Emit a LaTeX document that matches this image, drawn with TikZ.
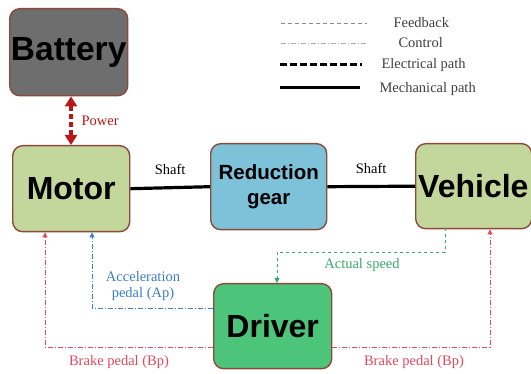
\documentclass[tikz,border=0pt]{standalone}
\usepackage{fontspec}
\setmainfont{Liberation Serif}
\setsansfont{Liberation Sans}
\usetikzlibrary{arrows.meta}
\definecolor{bordc}{HTML}{8B4A3C}
\definecolor{batfill}{HTML}{6E6E6E}
\definecolor{olivefill}{HTML}{C3D69B}
\definecolor{gearfill}{HTML}{7DC2D8}
\definecolor{drvfill}{HTML}{4CC47A}
\definecolor{fbgreen}{HTML}{3AAA6A}
\definecolor{apblue}{HTML}{3C7FC0}
\definecolor{bpred}{HTML}{E04A5E}
\definecolor{pwred}{HTML}{B81818}
\definecolor{leggray}{HTML}{8A8A8A}
\begin{document}
\begin{tikzpicture}[x=1pt,y=-1pt,
  blockbox/.style={draw=bordc,line width=1.4pt,rounded corners=10pt,inner sep=0pt,
     font=\sffamily\bfseries\fontsize{32}{34}\selectfont},
  smalllbl/.style={font=\fontsize{14.5}{16}\selectfont},
  mech/.style={line width=3.2pt,black},
  fb/.style={fbgreen,dashed,line width=0.8pt,-{Triangle[length=5pt,width=5pt]}},
  apc/.style={apblue,dash pattern=on 5pt off 2pt on 1pt off 2pt,line width=0.8pt,-{Triangle[length=5pt,width=5pt]}},
  bpc/.style={bpred,dash pattern=on 5pt off 2pt on 1pt off 2pt,line width=0.8pt,-{Triangle[length=5pt,width=5pt]}},
]
\useasboundingbox (0,0) rectangle (531,374);
\fill[white] (0,0) rectangle (531,374);

% blocks
\node[blockbox,fill=batfill,minimum width=118pt,minimum height=87pt,anchor=north west,
      font=\sffamily\bfseries\fontsize{33.5}{34}\selectfont] (bat) at (9,8) {Battery};
\node[blockbox,fill=olivefill,minimum width=117pt,minimum height=86pt,anchor=north west] (mot) at (12,145) {Motor};
\node[blockbox,fill=gearfill,minimum width=116pt,minimum height=86pt,anchor=north west,
      font=\sffamily\bfseries\fontsize{20.5}{25}\selectfont,align=center] (gear) at (210,143) {Reduction\\gear};
\node[draw=bordc,line width=1.4pt,rounded corners=10pt,fill=olivefill,minimum width=116pt,minimum height=85pt,anchor=north west,inner sep=0pt] (veh) at (415,143) {};
\node[font=\sffamily\bfseries\fontsize{32}{34}\selectfont,inner sep=0pt,anchor=west] (vehlbl) at (418,186) {Vehicle};
\node[blockbox,fill=drvfill,minimum width=118pt,minimum height=85pt,anchor=north west] (drv) at (213,283) {Driver};

% mechanical shafts
\draw[mech] (mot.east) -- (gear.west) node[midway,above=8pt,smalllbl] (sh1) {Shaft};
\draw[mech] (gear.east) -- (veh.west) node[midway,above=8pt,smalllbl] (sh2) {Shaft};

% power
\draw[pwred,line width=3.2pt,dash pattern=on 5pt off 3pt,{Triangle[length=10pt,width=12pt]}-{Triangle[length=10pt,width=12pt]}]
  (bat.south -| 71,0) -- (mot.north -| 71,0);
\node[smalllbl,text=pwred,anchor=west] (pw) at (78,121) {Power};

% feedback: actual speed
\coordinate (fs) at (445,228);
\coordinate (fc1) at (445,252);
\coordinate (fc2) at (277,252);
\draw[fb] (fs) -- (fc1) -- (fc2) -- (drv.north -| fc2);
\node[smalllbl,text=fbgreen] (aslbl) at (362,265) {Actual speed};

% acceleration pedal
\coordinate (ap1) at (92,308);
\draw[apc] (drv.west |- ap1) -- (ap1) -- (mot.south -| ap1);
\node[smalllbl,text=apblue,align=center] (aplbl) at (143,286) {Acceleration\\pedal (Ap)};

% brake pedals
\coordinate (bl) at (45,347);
\coordinate (br) at (490,347);
\draw[bpc] (drv.west |- bl) -- (bl) -- (mot.south -| bl);
\draw[bpc] (drv.east |- br) -- (br) -- (veh.south -| br);
\node[smalllbl,text=bpred] (bp1) at (119,362) {Brake pedal (Bp)};
\node[smalllbl,text=bpred] (bp2) at (414,362) {Brake pedal (Bp)};

% legend
\coordinate (l1a) at (281,23); \coordinate (l1b) at (367,23);
\coordinate (l2a) at (281,43); \coordinate (l2b) at (367,43);
\coordinate (l3a) at (280,65); \coordinate (l3b) at (362,65);
\coordinate (l4a) at (280,88); \coordinate (l4b) at (360,88);
\draw[leggray,dash pattern=on 4pt off 3pt,line width=0.8pt] (l1a) -- (l1b);
\draw[leggray!70,dash pattern=on 5pt off 2pt on 1pt off 2pt,line width=0.8pt] (l2a) -- (l2b);
\draw[black,line width=3pt,dash pattern=on 7pt off 3pt] (l3a) -- (l3b);
\draw[black,line width=3pt] (l4a) -- (l4b);
\node[smalllbl,anchor=west,text=black!75] (lg1) at (390,23) {Feedback};
\node[smalllbl,anchor=west,text=black!75] (lg2) at (395,43) {Control};
\node[smalllbl,anchor=west,text=black!75] (lg3) at (378,65) {Electrical path};
\node[smalllbl,anchor=west,text=black!75] (lg4) at (376,89) {Mechanical path};
\end{tikzpicture}
\end{document}
